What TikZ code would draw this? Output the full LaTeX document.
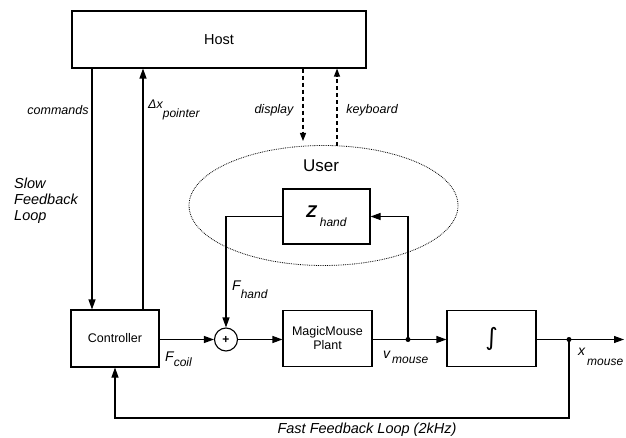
\documentclass[tikz,border=0pt]{standalone}
\usepackage{fontspec}
\setmainfont{Liberation Sans}
\newfontfamily\dvsans{DejaVu Sans}
\usetikzlibrary{arrows.meta,shapes.geometric}
\begin{document}
\begin{tikzpicture}[x=1pt,y=-1pt,
  box/.style={draw,line width=1.1pt,rectangle,inner sep=0pt,align=center,font=\fontsize{12.5}{14}\selectfont},
  arr/.style={line width=1.1pt,-{Triangle[length=10pt,width=7pt]}},
  darr/.style={line width=1.1pt,dashed,dash pattern=on 4pt off 3pt,-{Triangle[length=8pt,width=6pt]}},
  lab/.style={font=\fontsize{12.5}{14}\selectfont\itshape,inner sep=0pt},
  dot/.style={circle,fill,inner sep=0pt,minimum size=5pt}]
\useasboundingbox (0,0) rectangle (626,438);
% boxes
\node[box,minimum width=294pt,minimum height=57pt,font=\fontsize{14.5}{16}\selectfont] (host) at (219,39.5) {Host};
\node[box,minimum width=88pt,minimum height=57pt] (ctrl) at (115,338.5) {Controller};
\node[draw,circle,line width=1.1pt,minimum size=23pt,inner sep=0pt,font=\fontsize{12}{12}\selectfont\bfseries] (sum) at (226,339.5) {+};
\node[box,minimum width=89pt,minimum height=56pt] (plant) at (327.5,338.5) {MagicMouse\\Plant};
\node[box,minimum width=89pt,minimum height=56pt] (integ) at (491.5,338.5) {\dvsans\fontsize{24}{24}\selectfont ∫};
\node[box,minimum width=87pt,minimum height=55pt] (zhand) at (326.5,216.5) {\itshape{\fontsize{17}{17}\selectfont\bfseries Z}\hspace{3pt}\raisebox{-9pt}{\fontsize{12}{12}\selectfont hand}};
\node[draw,ellipse,densely dotted,line width=0.8pt,minimum width=269pt,minimum height=120pt] (user) at (323.5,205.5) {};
\node[font=\fontsize{17}{18}\selectfont,inner sep=0pt] (usertxt) at (321,166) {User};
% junctions
\node[dot] (vj) at (408,339.5) {};
\node[dot] (xj) at (569,339.5) {};
\coordinate (out) at (624,339.5);
\coordinate (fb) at (569,418);
\coordinate (cmdx) at (92,338);
\coordinate (dxx) at (143,338);
\coordinate (dtip) at (303,141);
\coordinate (kbot) at (337,146);
\coordinate (ktip) at (337,76);
% main path
\draw[arr] (ctrl.east |- sum) -- (sum.west);
\draw[arr] (sum.east) -- (plant.west |- sum);
\draw[arr] (plant.east |- sum) -- (integ.west |- sum);
\draw[arr] (integ.east |- sum) -- (out);
\draw[arr] (vj.center) |- (zhand.east);
\draw[arr] (zhand.west) -| (sum.north);
\draw[arr] (xj.center) -- (fb) -| (ctrl.south);
% host links
\draw[arr] (host.south -| cmdx) -- (ctrl.north -| cmdx);
\draw[arr] (ctrl.north -| dxx) -- (host.south -| dxx);
\draw[darr] (host.south -| dtip) -- (dtip);
\draw[darr] (kbot) -- (ktip) -- (host.south -| ktip);
% labels
\node[lab] (lcmd) at (58,110) {commands};
\node[lab,anchor=west] (ldx) at (148,110) {Δx\raisebox{-9pt}{\fontsize{12}{12}\selectfont pointer}};
\node[lab] (ldisp) at (274,110) {display};
\node[lab] (lkey) at (372,110) {keyboard};
\node[lab,anchor=west] (lfh) at (232,290) {\fontsize{14}{14}\selectfont F\raisebox{-8pt}{\fontsize{12}{12}\selectfont hand}};
\node[lab,anchor=west] (lfc) at (165,359) {\fontsize{14}{14}\selectfont F\raisebox{-5pt}{\fontsize{12}{12}\selectfont coil}};
\node[lab,anchor=west] (lvm) at (383,357) {\fontsize{14}{14}\selectfont v\raisebox{-5pt}{\fontsize{12}{12}\selectfont\,mouse}};
\node[lab,anchor=west] (lxm) at (578,357) {\fontsize{14}{14}\selectfont x\raisebox{-10pt}{\fontsize{12}{12}\selectfont\,mouse}};
\node[lab,anchor=north west,align=left,font=\fontsize{14.5}{16}\selectfont\itshape] (lslow) at (14,178) {Slow\\Feedback\\Loop};
\node[lab,font=\fontsize{14.5}{16}\selectfont\itshape] (lfast) at (367,430) {Fast Feedback Loop (2kHz)};
\end{tikzpicture}
\end{document}
